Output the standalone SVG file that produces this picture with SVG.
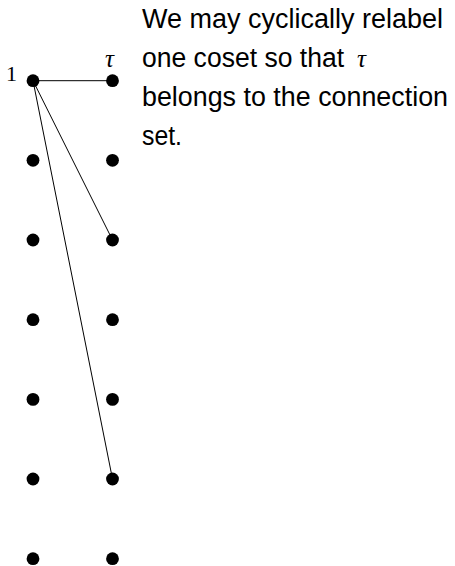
<svg xmlns="http://www.w3.org/2000/svg" width="455" height="566" viewBox="0 0 455 566">
<style>
.dot{fill:#000}
.edge{stroke:#000;stroke-width:1;fill:none}
.txt{font-family:"Liberation Sans",Arial,sans-serif;font-size:27px;fill:#000}
.num{font-family:"Liberation Serif","Times New Roman",serif;font-size:22px;fill:#000}
.math{font-family:"Liberation Serif","Times New Roman",serif;font-style:italic;font-size:25px;fill:#000}
</style>
<rect width="455" height="566" fill="#fff"/>
<g id="connectors">
<line class="edge" x1="33" y1="80.7" x2="112.5" y2="80.7"/>
<line class="edge" x1="33" y1="80.7" x2="112.5" y2="240"/>
<line class="edge" x1="33" y1="80.7" x2="112.5" y2="479"/>
</g>
<g id="left-nodes">
<g id="L0"><circle class="dot" cx="33" cy="80.7" r="6.4"/><text class="num" x="6" y="81">1</text></g>
<g id="L1"><circle class="dot" cx="33" cy="160.3" r="6.4"/></g>
<g id="L2"><circle class="dot" cx="33" cy="240" r="6.4"/></g>
<g id="L3"><circle class="dot" cx="33" cy="319.7" r="6.4"/></g>
<g id="L4"><circle class="dot" cx="33" cy="399.4" r="6.4"/></g>
<g id="L5"><circle class="dot" cx="33" cy="479" r="6.4"/></g>
<g id="L6"><circle class="dot" cx="33" cy="558.7" r="6.4"/></g>
</g>
<g id="right-nodes">
<g id="R0"><circle class="dot" cx="112.5" cy="80.7" r="6.4"/><text class="math" x="105" y="67">τ</text></g>
<g id="R1"><circle class="dot" cx="112.5" cy="160.3" r="6.4"/></g>
<g id="R2"><circle class="dot" cx="112.5" cy="240" r="6.4"/></g>
<g id="R3"><circle class="dot" cx="112.5" cy="319.7" r="6.4"/></g>
<g id="R4"><circle class="dot" cx="112.5" cy="399.4" r="6.4"/></g>
<g id="R5"><circle class="dot" cx="112.5" cy="479" r="6.4"/></g>
<g id="R6"><circle class="dot" cx="112.5" cy="558.7" r="6.4"/></g>
</g>
<g id="caption">
<text class="txt" x="142" y="28" textLength="301" lengthAdjust="spacingAndGlyphs">We may cyclically relabel</text>
<text class="txt" x="142" y="66.5" textLength="202" lengthAdjust="spacingAndGlyphs">one coset so that</text>
<text class="math" x="357" y="66.5">τ</text>
<text class="txt" x="142" y="106" textLength="306" lengthAdjust="spacingAndGlyphs">belongs to the connection</text>
<text class="txt" x="142" y="145" textLength="40" lengthAdjust="spacingAndGlyphs">set.</text>
</g>
</svg>
